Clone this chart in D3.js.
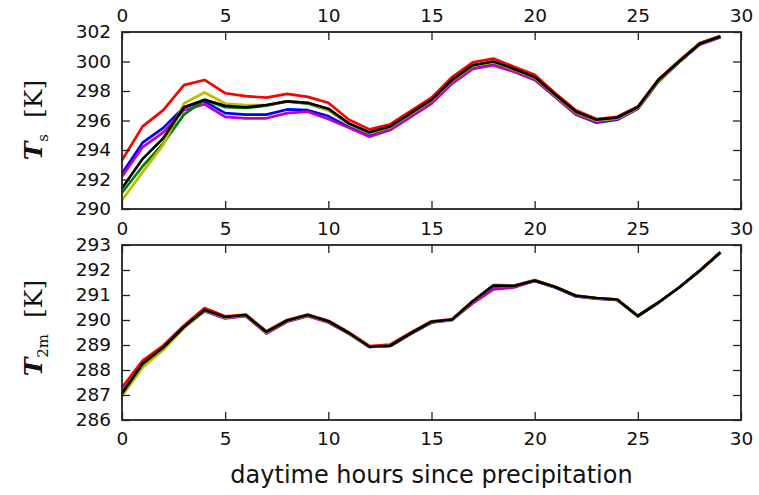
<!DOCTYPE html>
<html>
<head>
<meta charset="utf-8">
<script src="https://cdn.jsdelivr.net/npm/d3@7"></script>
<style>
  body { margin: 0; background: #fff; }
  svg { display: block; }
  .tick text { font-family: "DejaVu Sans", sans-serif; font-size: 18.5px; fill: #111; }
</style>
</head>
<body>
<div id="chart"></div>
<script>
// ------------- DATA ---------------------------
var hours = d3.range(0, 30);
var xTicks = [0, 5, 10, 15, 20, 25, 30];
var tsTicks = [290, 292, 294, 296, 298, 300, 302];
var t2mTicks = [286, 287, 288, 289, 290, 291, 292, 293];

// surface temperature Ts [K]
var tsRed     = [293.3, 295.6, 296.7, 298.4, 298.75, 297.85, 297.65, 297.55, 297.8, 297.6, 297.2, 296.05, 295.4, 295.75, 296.65, 297.55, 298.95, 299.95, 300.2, 299.65, 299.1, 297.85, 296.7, 296.1, 296.25, 296.95, 298.8, 300.05, 301.25, 301.75];
var tsBlue    = [292.4, 294.5, 295.5, 296.9, 297.3, 296.5, 296.4, 296.4, 296.75, 296.7, 296.3, 295.55, 294.95, 295.4, 296.3, 297.2, 298.55, 299.55, 299.8, 299.35, 298.8, 297.6, 296.4, 295.85, 296.05, 296.8, 298.65, 299.95, 301.15, 301.65];
var tsMagenta = [292.2, 294.2, 295.2, 296.7, 297.1, 296.25, 296.15, 296.15, 296.5, 296.6, 296.1, 295.5, 294.9, 295.35, 296.25, 297.15, 298.5, 299.5, 299.75, 299.3, 298.75, 297.6, 296.4, 295.9, 296.1, 296.8, 298.65, 299.95, 301.15, 301.65];
var tsGreen   = [291.1, 292.9, 294.45, 296.4, 297.4, 296.9, 296.85, 297.0, 297.3, 297.15, 296.7, 295.75, 295.15, 295.55, 296.45, 297.35, 298.7, 299.7, 299.95, 299.45, 298.9, 297.7, 296.55, 296.0, 296.15, 296.85, 298.7, 299.95, 301.2, 301.7];
var tsYellow  = [290.6, 292.5, 294.35, 297.15, 297.9, 297.15, 297.05, 297.05, 297.3, 297.2, 296.7, 295.75, 295.15, 295.55, 296.45, 297.35, 298.7, 299.7, 299.95, 299.45, 298.9, 297.7, 296.55, 296.0, 296.15, 296.85, 298.7, 299.95, 301.2, 301.7];
var tsBlack   = [291.4, 293.4, 294.8, 296.9, 297.4, 297.0, 296.9, 297.05, 297.3, 297.2, 296.8, 295.8, 295.2, 295.6, 296.5, 297.4, 298.75, 299.75, 300.0, 299.5, 298.95, 297.75, 296.6, 296.05, 296.2, 296.9, 298.75, 300.0, 301.2, 301.7];

// 2 m air temperature T2m [K]
var t2mRed     = [287.3, 288.38, 288.98, 289.78, 290.48, 290.15, 290.22, 289.55, 290.0, 290.22, 289.97, 289.5, 288.96, 289.02, 289.5, 289.95, 290.03, 290.76, 291.4, 291.38, 291.6, 291.33, 290.98, 290.88, 290.82, 290.17, 290.7, 291.3, 291.98, 292.72];
var t2mBlue    = [287.1, 288.25, 288.88, 289.7, 290.36, 290.08, 290.17, 289.48, 289.95, 290.17, 289.92, 289.46, 288.92, 288.96, 289.45, 289.9, 290.0, 290.72, 291.32, 291.34, 291.56, 291.3, 290.94, 290.85, 290.8, 290.15, 290.7, 291.3, 291.97, 292.7];
var t2mMagenta = [287.1, 288.25, 288.88, 289.7, 290.35, 290.06, 290.15, 289.46, 289.93, 290.15, 289.9, 289.45, 288.92, 288.96, 289.45, 289.9, 290.0, 290.66, 291.22, 291.3, 291.56, 291.3, 290.95, 290.86, 290.8, 290.15, 290.7, 291.3, 291.97, 292.7];
var t2mGreen   = [287.0, 288.2, 288.85, 289.7, 290.38, 290.1, 290.18, 289.5, 289.97, 290.18, 289.94, 289.47, 288.93, 288.97, 289.46, 289.92, 290.01, 290.74, 291.37, 291.36, 291.58, 291.32, 290.97, 290.87, 290.82, 290.16, 290.7, 291.3, 291.97, 292.7];
var t2mYellow  = [286.95, 288.1, 288.8, 289.68, 290.38, 290.1, 290.18, 289.5, 289.97, 290.18, 289.94, 289.47, 288.93, 288.97, 289.46, 289.92, 290.01, 290.74, 291.37, 291.36, 291.58, 291.32, 290.97, 290.87, 290.82, 290.16, 290.7, 291.3, 291.97, 292.7];
var t2mBlack   = [287.06, 288.25, 288.9, 289.72, 290.4, 290.12, 290.2, 289.52, 289.98, 290.2, 289.95, 289.48, 288.93, 288.97, 289.47, 289.93, 290.02, 290.75, 291.38, 291.36, 291.58, 291.32, 290.97, 290.88, 290.82, 290.16, 290.7, 291.3, 291.97, 292.7];

var colors = ["#ff0000", "#0000ff", "#bf00bf", "#008000", "#bfbf00", "#000000"];

// ------------- LAYOUT ---------------------------
var width = 759, height = 495;
var svg = d3.select("#chart").append("svg")
    .attr("width", width)
    .attr("height", height);

var x = d3.scaleLinear().domain([0, 30]).range([122, 741]);

var panels = [
    { series: [tsRed, tsBlue, tsMagenta, tsGreen, tsYellow, tsBlack],
      y: d3.scaleLinear().domain([290, 302]).range([209, 32]),
      ticks: tsTicks, top: 32, bottom: 209, topLabels: true, bottomLabels: false,
      label: "s", labelY: 120 },
    { series: [t2mRed, t2mBlue, t2mMagenta, t2mGreen, t2mYellow, t2mBlack],
      y: d3.scaleLinear().domain([286, 293]).range([420, 245]),
      ticks: t2mTicks, top: 245, bottom: 420, topLabels: true, bottomLabels: true,
      label: "2m", labelY: 328 }
];

panels.forEach(function(p) {
    var g = svg.append("g");

    // lines
    var line = d3.line()
        .x(function(d, i) { return x(hours[i]); })
        .y(function(d) { return p.y(d); });
    g.selectAll("path.series")
        .data(p.series)
        .enter().append("path")
        .attr("class", "series")
        .attr("d", line)
        .attr("fill", "none")
        .attr("stroke", function(d, i) { return colors[i]; })
        .attr("stroke-width", 2.7)
        .attr("stroke-linejoin", "round");

    // axes, ticks pointing inwards
    var bottomAx = d3.axisBottom(x).tickValues(xTicks).tickSize(-8).tickPadding(12);
    if (!p.bottomLabels) bottomAx.tickFormat("");
    var topAx = d3.axisTop(x).tickValues(xTicks).tickSize(-8).tickPadding(10);
    if (!p.topLabels) topAx.tickFormat("");

    g.append("g").attr("transform", "translate(0," + p.bottom + ")").call(bottomAx);
    g.append("g").attr("transform", "translate(0," + p.top + ")").call(topAx);
    g.append("g").attr("transform", "translate(122,0)")
        .call(d3.axisLeft(p.y).tickValues(p.ticks).tickSize(-8).tickPadding(11).tickFormat(d3.format("d")));
    g.append("g").attr("transform", "translate(741,0)")
        .call(d3.axisRight(p.y).tickValues(p.ticks).tickSize(-8).tickFormat(""));

    g.selectAll(".domain").remove();
    g.selectAll(".tick line").attr("stroke", "#222").attr("stroke-width", 1.3);

    // frame
    g.append("rect")
        .attr("x", 122).attr("y", p.top)
        .attr("width", 741 - 122).attr("height", p.bottom - p.top)
        .attr("fill", "none").attr("stroke", "#222").attr("stroke-width", 1.8);

    // y label
    var t = g.append("text")
        .attr("transform", "translate(42," + p.labelY + ") rotate(-90)")
        .attr("text-anchor", "middle")
        .style("font-family", "'DejaVu Serif', serif")
        .style("font-size", "25px")
        .attr("fill", "#111");
    t.append("tspan").style("font-style", "italic").style("font-weight", "bold").text("T");
    t.append("tspan").attr("dy", 6).style("font-size", "15px").text(p.label);
    t.append("tspan").attr("dy", -6).attr("dx", 16).text("[K]");
});

// x label
svg.append("text")
    .attr("x", 431.5).attr("y", 483)
    .attr("text-anchor", "middle")
    .style("font-family", "'DejaVu Sans', sans-serif")
    .style("font-size", "24px")
    .attr("fill", "#111")
    .text("daytime hours since precipitation");
</script>
</body>
</html>
